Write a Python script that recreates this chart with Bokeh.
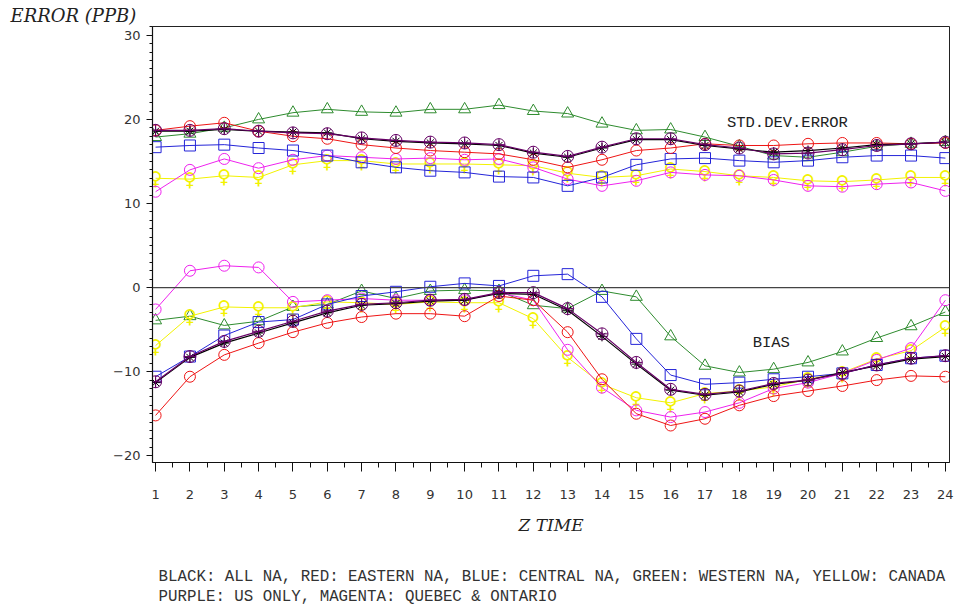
from bokeh.plotting import figure
from bokeh.models import (ColumnDataSource, Range1d, SingleIntervalTicker, Span, Label, Title)
from bokeh.layouts import column
from bokeh.core.properties import value
from bokeh.embed import file_html
from bokeh.resources import INLINE

hours = list(range(1, 25))

# Standard deviation of error (ppb)
std_black   = [18.6, 18.6, 18.8, 18.6, 18.5, 18.4, 17.7, 17.4, 17.2, 17.1, 16.9, 16.0, 15.5, 16.6, 17.6, 17.6, 16.9, 16.5, 16.1, 16.3, 16.6, 17.0, 17.1, 17.3]
std_red     = [18.7, 19.2, 19.6, 18.6, 18.0, 17.7, 17.0, 16.6, 16.3, 16.1, 15.9, 15.2, 14.3, 15.2, 16.3, 16.6, 17.1, 16.9, 16.9, 17.1, 17.2, 17.2, 17.1, 17.2]
std_blue    = [16.7, 16.9, 17.0, 16.6, 16.3, 15.7, 14.9, 14.3, 13.9, 13.7, 13.2, 13.1, 12.1, 13.1, 14.6, 15.3, 15.4, 15.1, 14.9, 15.1, 15.5, 15.7, 15.7, 15.4]
std_green   = [17.9, 18.3, 19.0, 20.0, 20.8, 21.2, 20.9, 20.8, 21.2, 21.2, 21.7, 21.0, 20.7, 19.5, 18.7, 18.8, 17.9, 16.8, 15.7, 15.5, 16.1, 16.8, 17.1, 17.3]
std_yellow  = [13.0, 12.9, 13.3, 13.1, 14.6, 15.1, 15.1, 14.7, 14.7, 14.7, 14.6, 14.5, 13.6, 13.1, 13.3, 14.1, 13.8, 13.3, 13.1, 12.7, 12.6, 12.8, 13.1, 13.1]
std_purple  = [18.7, 18.7, 18.9, 18.6, 18.4, 18.3, 17.8, 17.5, 17.3, 17.2, 17.0, 16.1, 15.6, 16.7, 17.7, 17.7, 17.0, 16.6, 15.9, 16.0, 16.4, 16.9, 17.1, 17.3]
std_magenta = [11.4, 14.0, 15.3, 14.2, 15.2, 15.7, 15.5, 15.3, 15.4, 15.2, 15.3, 14.3, 12.9, 12.1, 12.7, 13.7, 13.4, 13.3, 12.8, 12.1, 12.0, 12.3, 12.5, 11.5]

# Bias (ppb)
bias_black   = [-11.3, -8.3, -6.6, -5.4, -4.2, -3.0, -2.1, -1.9, -1.6, -1.5, -0.7, -0.8, -2.7, -5.8, -9.1, -12.2, -12.8, -12.4, -11.5, -11.0, -10.1, -9.3, -8.5, -8.2]
bias_red     = [-15.2, -10.6, -8.0, -6.6, -5.3, -4.2, -3.5, -3.1, -3.1, -3.4, -1.0, -1.5, -5.3, -10.9, -15.0, -16.4, -15.6, -14.0, -12.9, -12.3, -11.7, -11.0, -10.5, -10.6]
bias_blue    = [-10.6, -8.2, -5.7, -4.1, -3.8, -2.0, -1.0, -0.5, 0.1, 0.5, 0.2, 1.4, 1.6, -1.1, -6.1, -10.4, -11.5, -11.3, -10.9, -10.6, -10.2, -9.2, -8.4, -8.1]
bias_green   = [-3.9, -3.4, -4.5, -4.0, -2.3, -2.0, -0.4, -1.3, -0.4, -0.3, -0.4, -2.1, -2.5, -0.4, -1.1, -5.8, -9.3, -10.1, -9.7, -8.9, -7.6, -6.0, -4.6, -2.9]
bias_yellow  = [-6.9, -3.4, -2.3, -2.4, -2.4, -1.7, -1.8, -2.0, -1.7, -1.8, -1.8, -3.7, -8.3, -11.5, -13.1, -13.7, -12.6, -12.3, -11.8, -10.9, -10.1, -8.5, -7.5, -4.7]
bias_purple  = [-11.2, -8.2, -6.4, -5.2, -4.0, -2.8, -2.0, -1.8, -1.5, -1.4, -0.6, -0.6, -2.5, -5.5, -8.9, -12.1, -12.7, -12.3, -11.4, -11.0, -10.2, -9.2, -8.4, -8.1]
bias_magenta = [-2.6, 2.0, 2.6, 2.4, -1.7, -1.5, -1.3, -1.5, -1.5, -1.5, -0.6, -1.5, -7.4, -11.9, -14.6, -15.4, -14.8, -13.7, -12.0, -11.3, -10.2, -8.6, -7.2, -1.5]

footnote_lines = [
    "BLACK: ALL NA, RED: EASTERN NA, BLUE: CENTRAL NA, GREEN: WESTERN NA, YELLOW: CANADA",
    "PURPLE: US ONLY, MAGENTA: QUEBEC & ONTARIO",
]

series = [
    # name, color, marker, std, bias
    ("green", "#2E8B2E", "triangle", std_green, bias_green),
    ("yellow", "#F2F200", "female", std_yellow, bias_yellow),
    ("magenta", "#EE22EE", "circle", std_magenta, bias_magenta),
    ("blue", "#2424D8", "square", std_blue, bias_blue),
    ("red", "#EE1515", "circle", std_red, bias_red),
    ("black", "#000000", "asterisk", std_black, bias_black),
    ("purple", "#660066", "circle_cross", std_purple, bias_purple),
]

title = Title(text="ERROR (PPB)", align="left", offset=-142, standoff=2,
              text_font="DejaVu Serif", text_font_style="italic", text_font_size="18px",
              text_color="#222222")

p = figure(width=954, height=545, x_range=Range1d(0.91, 24.12), y_range=Range1d(-20.8, 31.05),
           output_backend="svg", toolbar_location=None, title=title,
           min_border_left=152, min_border_right=5, min_border_top=26, min_border_bottom=83)
p.background_fill_color = "white"
p.border_fill_color = "white"
p.grid.visible = False
p.outline_line_color = "#222222"
p.outline_line_width = 1

p.add_layout(Span(location=0, dimension="width", line_color="#444444", line_width=1.2))

for name, color, marker, s, b in series:
    src = ColumnDataSource(dict(hour=hours, std=s, bias=b))
    lw = 1.2 if name in ("black", "purple") else 1.0
    for col in ("std", "bias"):
        p.line("hour", col, source=src, line_color=color, line_width=lw)
        if marker == "female":
            p.text("hour", col, source=src, text=value("\u2640"), text_color=color,
                   text_font=value("DejaVu Sans"), text_font_size="19px",
                   text_align="center", text_baseline="middle")
        else:
            size = {"circle": 11, "square": 11, "triangle": 12, "asterisk": 10, "circle_cross": 12}[marker]
            p.scatter("hour", col, source=src, marker=marker, size=size,
                      line_color=color, fill_color=None, line_width=1)

# axes
p.xaxis.ticker = SingleIntervalTicker(interval=1, num_minor_ticks=2)
p.yaxis.ticker = SingleIntervalTicker(interval=10, num_minor_ticks=10)
for ax in (p.xaxis[0], p.yaxis[0]):
    ax.axis_line_color = "#111111"
    ax.axis_line_width = 1.2
    ax.major_tick_line_color = "#111111"
    ax.minor_tick_line_color = "#111111"
    ax.major_tick_in = 0
    ax.minor_tick_in = 0
    ax.major_label_text_font = "DejaVu Sans"
    ax.major_label_text_font_size = "13px"
    ax.major_label_text_color = "#333333"
p.xaxis.major_tick_out = 9
p.xaxis.minor_tick_out = 5
p.xaxis.major_label_standoff = 18
p.yaxis.major_tick_out = 6
p.yaxis.minor_tick_out = 3
p.yaxis.major_label_standoff = 6

p.xaxis.axis_label = "Z TIME"
p.xaxis.axis_label_text_font = "DejaVu Serif"
p.xaxis.axis_label_text_font_style = "italic"
p.xaxis.axis_label_text_font_size = "17px"
p.xaxis.axis_label_text_color = "#222222"
p.xaxis.axis_label_standoff = 13

mono = "Liberation Mono"
p.add_layout(Label(x=19.4, y=19.6, text="STD.DEV.ERROR", text_font=mono, text_font_size="15.5px",
                   text_align="center", text_baseline="middle", text_color="#222222"))
p.add_layout(Label(x=18.93, y=-6.55, text="BIAS", text_font=mono, text_font_size="15.5px",
                   text_align="center", text_baseline="middle", text_color="#222222"))

# footnote panel (its frame is aligned with the main plot frame)
f = figure(width=954, height=61, output_backend="svg", toolbar_location=None,
           x_axis_location=None, y_axis_location=None, min_border=0,
           x_range=Range1d(0, 1), y_range=Range1d(0, 1))
f.grid.visible = False
f.outline_line_color = None
f.background_fill_color = "white"
f.border_fill_color = "white"
f.add_layout(Label(x=6, y=30, x_units="screen", y_units="screen", text=footnote_lines[0],
                   text_font=mono, text_font_size="15.8px", text_align="left",
                   text_baseline="middle", text_color="#333333"))
f.add_layout(Label(x=6, y=9.5, x_units="screen", y_units="screen", text=footnote_lines[1],
                   text_font=mono, text_font_size="15.8px", text_align="left",
                   text_baseline="middle", text_color="#333333"))

open("out.html", "w").write(file_html(column(p, f), INLINE))
